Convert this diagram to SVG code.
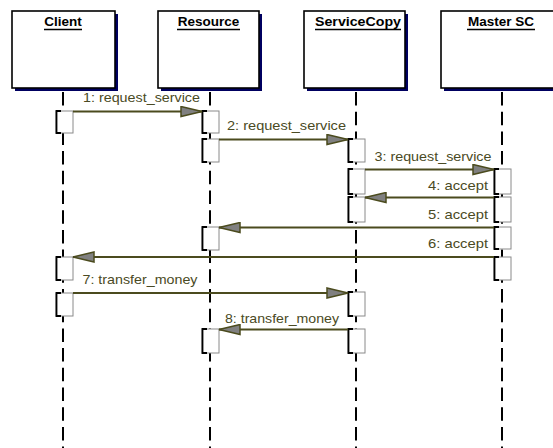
<svg xmlns="http://www.w3.org/2000/svg" width="553" height="448" viewBox="0 0 553 448">
  <style>
    .head { fill: #ffffff; stroke: #000000; stroke-width: 1.6; }
    .shadow { fill: #000060; }
    .title { font-family: "Liberation Sans", Arial, sans-serif; font-weight: bold; font-size: 13.5px; fill: #000000; }
    .uline { stroke: #000000; stroke-width: 1.5; }
    .life { stroke: #000000; stroke-width: 2; stroke-dasharray: 13.5 6.2; fill: none; }
    .act { fill: #ffffff; stroke: #8a8a8a; stroke-width: 1; }
    .actedge { fill: none; stroke: #000000; stroke-width: 1.8; }
    .msg { stroke: #4b4b1e; stroke-width: 2; fill: none; marker-end: url(#head); }
    .lbl { font-family: "Liberation Sans", Arial, sans-serif; font-size: 13.5px; fill: #4a4a24; }
  </style>
  <defs>
    <marker id="head" viewBox="0 0 23 12" refX="22" refY="6" markerWidth="23" markerHeight="12" markerUnits="userSpaceOnUse" orient="auto">
      <path d="M1,1 L22,6 L1,11 Z" fill="#808080" stroke="#4b4b1e" stroke-width="1.5" stroke-linejoin="miter"/>
    </marker>
    <!-- activation bar: white box with a dark left bracket -->
    <g id="actbar">
      <rect class="act" x="0" y="0" width="17" height="1"/>
    </g>
  </defs>

  <rect width="553" height="448" fill="#ffffff"/>

  <!-- lifelines -->
  <g id="lifelines">
    <line class="life" x1="63" y1="92" x2="63" y2="448"/>
    <line class="life" x1="210" y1="92" x2="210" y2="448"/>
    <line class="life" x1="356" y1="92" x2="356" y2="448"/>
    <line class="life" x1="502" y1="92" x2="502" y2="448"/>
  </g>

  <!-- object heads -->
  <g id="client">
    <rect class="shadow" x="15" y="14" width="103" height="77"/>
    <rect class="head" x="12" y="11" width="103" height="77"/>
    <text class="title" x="63" y="26" text-anchor="middle">Client</text>
    <line class="uline" x1="44" y1="29.5" x2="82" y2="29.5"/>
  </g>
  <g id="resource">
    <rect class="shadow" x="161" y="14" width="101" height="77"/>
    <rect class="head" x="158" y="11" width="101" height="77"/>
    <text class="title" x="208.5" y="26" text-anchor="middle">Resource</text>
    <line class="uline" x1="177" y1="29.5" x2="240" y2="29.5"/>
  </g>
  <g id="servicecopy">
    <rect class="shadow" x="307" y="14" width="101" height="77"/>
    <rect class="head" x="304" y="11" width="101" height="77"/>
    <text class="title" x="358" y="26" text-anchor="middle" textLength="86" lengthAdjust="spacingAndGlyphs">ServiceCopy</text>
    <line class="uline" x1="315" y1="29.5" x2="401" y2="29.5"/>
  </g>
  <g id="master-sc">
    <rect class="shadow" x="444" y="14" width="115" height="77"/>
    <rect class="head" x="441" y="11" width="115" height="77"/>
    <text class="title" x="501" y="26" text-anchor="middle">Master SC</text>
    <line class="uline" x1="467" y1="29.5" x2="535" y2="29.5"/>
  </g>

  <!-- activation bars -->
  <g id="activations">
    <!-- Client -->
    <rect class="act" x="56" y="111" width="17" height="22"/>
    <path class="actedge" d="M61,111 H56.5 V133 H61"/>
    <rect class="act" x="56" y="257" width="17" height="23"/>
    <path class="actedge" d="M61,257 H56.5 V280 H61"/>
    <rect class="act" x="56" y="293" width="17" height="23"/>
    <path class="actedge" d="M61,293 H56.5 V316 H61"/>
    <!-- Resource -->
    <rect class="act" x="202" y="111" width="17" height="22"/>
    <path class="actedge" d="M207,111 H202.5 V133 H207"/>
    <rect class="act" x="202" y="139" width="17" height="23"/>
    <path class="actedge" d="M207,139 H202.5 V162 H207"/>
    <rect class="act" x="202" y="227" width="17" height="23"/>
    <path class="actedge" d="M207,227 H202.5 V250 H207"/>
    <rect class="act" x="202" y="329" width="17" height="24"/>
    <path class="actedge" d="M207,329 H202.5 V353 H207"/>
    <!-- ServiceCopy -->
    <rect class="act" x="348" y="139" width="17" height="23"/>
    <path class="actedge" d="M353,139 H348.5 V162 H353"/>
    <rect class="act" x="348" y="169" width="17" height="25"/>
    <path class="actedge" d="M353,169 H348.5 V194 H353"/>
    <rect class="act" x="348" y="197" width="17" height="25"/>
    <path class="actedge" d="M353,197 H348.5 V222 H353"/>
    <rect class="act" x="348" y="292" width="17" height="24"/>
    <path class="actedge" d="M353,292 H348.5 V316 H353"/>
    <rect class="act" x="348" y="329" width="17" height="24"/>
    <path class="actedge" d="M353,329 H348.5 V353 H353"/>
    <!-- Master SC -->
    <rect class="act" x="494" y="169" width="17" height="25"/>
    <path class="actedge" d="M499,169 H494.5 V194 H499"/>
    <rect class="act" x="494" y="197" width="17" height="25"/>
    <path class="actedge" d="M499,197 H494.5 V222 H499"/>
    <rect class="act" x="494" y="227" width="17" height="22"/>
    <path class="actedge" d="M499,227 H494.5 V249 H499"/>
    <rect class="act" x="494" y="257" width="17" height="23"/>
    <path class="actedge" d="M499,257 H494.5 V280 H499"/>
  </g>

  <!-- messages -->
  <g id="connectors">
    <line class="msg" x1="73" y1="111.5" x2="202" y2="111.5"/>
    <line class="msg" x1="219" y1="139.5" x2="348" y2="139.5"/>
    <line class="msg" x1="365" y1="169.5" x2="494" y2="169.5"/>
    <line class="msg" x1="494" y1="197.5" x2="365" y2="197.5"/>
    <line class="msg" x1="494" y1="227.5" x2="219" y2="227.5"/>
    <line class="msg" x1="494" y1="257" x2="73" y2="257"/>
    <line class="msg" x1="73" y1="293" x2="348" y2="293"/>
    <line class="msg" x1="348" y1="329.5" x2="219" y2="329.5"/>
  </g>

  <!-- message labels -->
  <g id="labels">
    <text class="lbl" x="83" y="101.5" textLength="117" lengthAdjust="spacingAndGlyphs">1: request_service</text>
    <text class="lbl" x="227" y="130" textLength="119" lengthAdjust="spacingAndGlyphs">2: request_service</text>
    <text class="lbl" x="374.5" y="161" textLength="117" lengthAdjust="spacingAndGlyphs">3: request_service</text>
    <text class="lbl" x="428" y="190" textLength="60" lengthAdjust="spacingAndGlyphs">4: accept</text>
    <text class="lbl" x="428" y="218.5" textLength="60" lengthAdjust="spacingAndGlyphs">5: accept</text>
    <text class="lbl" x="428" y="247.5" textLength="60" lengthAdjust="spacingAndGlyphs">6: accept</text>
    <text class="lbl" x="82.5" y="283.5" textLength="115" lengthAdjust="spacingAndGlyphs">7: transfer_money</text>
    <text class="lbl" x="225" y="322.5" textLength="114" lengthAdjust="spacingAndGlyphs">8: transfer_money</text>
  </g>
</svg>
